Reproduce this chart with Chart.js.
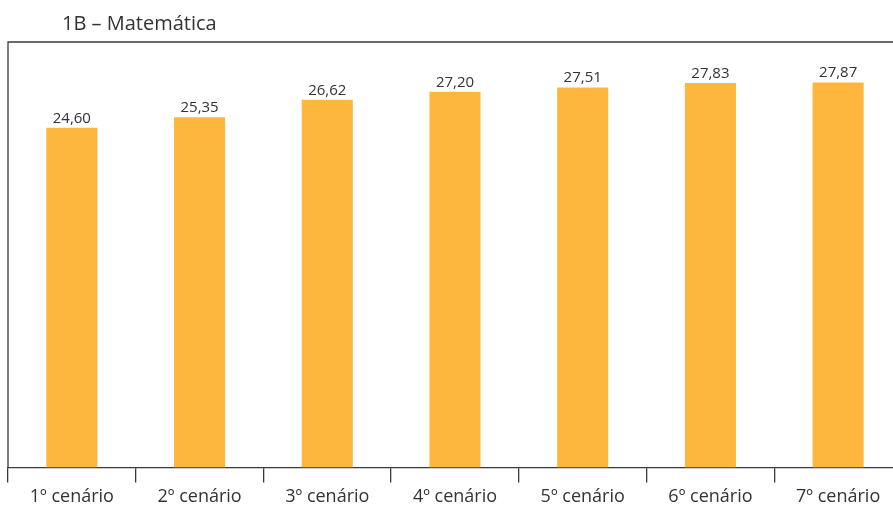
<!DOCTYPE html>
<html>
<head>
<meta charset="utf-8">
<script src="https://cdn.jsdelivr.net/npm/chart.js@4/dist/chart.umd.min.js"></script>
<style>
  html, body { margin: 0; padding: 0; overflow: hidden; background: #fff; }
  #wrap { position: absolute; left: 0; top: 0; width: 910px; height: 512px; }
</style>
</head>
<body>
<div id="wrap"><canvas id="grafico"></canvas></div>
<script>
// Dados do gráfico
const titulo = '1B – Matemática';
const cenarios = ['1º cenário', '2º cenário', '3º cenário', '4º cenário', '5º cenário', '6º cenário', '7º cenário'];
const notas = [24.60, 25.35, 26.62, 27.20, 27.51, 27.83, 27.87];

const corBarra = '#FDB73F';
const corLinha = '#3a3a3c';
const corTexto = '#333333';
const fonte = '"Open Sans", "Noto Sans", sans-serif';

// Moldura (linha esquerda e superior), título e rótulos dos valores
const extras = {
  id: 'extras',
  afterDatasetsDraw(chart) {
    const { ctx, chartArea } = chart;
    ctx.save();
    ctx.strokeStyle = corLinha;
    ctx.lineWidth = 1.3;
    ctx.beginPath();
    ctx.moveTo(chartArea.left, chartArea.bottom);
    ctx.lineTo(chartArea.left, chartArea.top);
    ctx.lineTo(chart.width, chartArea.top);
    ctx.stroke();

    // título
    ctx.fillStyle = corTexto;
    ctx.font = '20px ' + fonte;
    ctx.textAlign = 'left';
    ctx.textBaseline = 'alphabetic';
    ctx.fillText(titulo, chartArea.left + 54, 30);

    // valores acima das barras
    ctx.font = '15px ' + fonte;
    ctx.textAlign = 'center';
    const meta = chart.getDatasetMeta(0);
    meta.data.forEach((bar, i) => {
      const txt = notas[i].toFixed(2).replace('.', ',');
      ctx.fillText(txt, bar.x, bar.y - 5);
    });
    ctx.restore();
  }
};

const ctx = document.getElementById('grafico').getContext('2d');
new Chart(ctx, {
  type: 'bar',
  data: {
    labels: cenarios,
    datasets: [{
      data: notas,
      backgroundColor: corBarra,
      borderWidth: 0,
      barPercentage: 0.4,
      categoryPercentage: 1.0
    }]
  },
  options: {
    responsive: true,
    maintainAspectRatio: false,
    animation: false,
    layout: { padding: { left: 8, top: 42, right: 8, bottom: 0 } },
    plugins: {
      legend: { display: false },
      tooltip: { enabled: false }
    },
    scales: {
      y: {
        display: false,
        min: 0,
        max: 30.8
      },
      x: {
        offset: true,
        grid: {
          offset: true,
          drawOnChartArea: false,
          drawTicks: true,
          tickLength: 15,
          color: corLinha,
          lineWidth: 1.3
        },
        border: { display: true, color: corLinha, width: 1.3 },
        ticks: {
          color: corTexto,
          font: { family: fonte, size: 18, lineHeight: 1.2 },
          padding: 4,
          maxRotation: 0
        }
      }
    }
  },
  plugins: [extras]
});
</script>
</body>
</html>
